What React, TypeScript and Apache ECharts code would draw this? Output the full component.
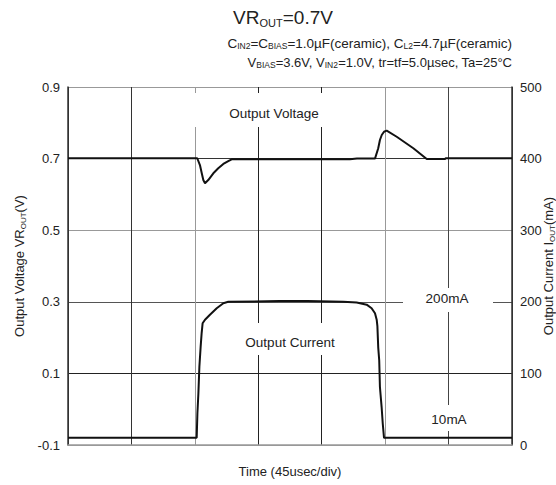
import React, { useEffect, useRef } from "react";
import * as echarts from "echarts";

// Time in microseconds (45 µs/div, 7 divisions)
const TIME_V = [0, 91.7, 93.6, 94.9, 96.0, 97.2, 99.5, 103.1, 106.6, 110.2, 113.7, 116.1, 150, 200, 205, 217.8, 220.1, 221.3, 222.6, 224.2, 226.1, 233.2, 245, 254.5, 267.5, 268, 315];
const VOLT = [0.701, 0.701, 0.682, 0.659, 0.64, 0.631, 0.64, 0.659, 0.673, 0.685, 0.693, 0.698, 0.698, 0.698, 0.700, 0.700, 0.729, 0.752, 0.766, 0.775, 0.778, 0.761, 0.729, 0.699, 0.699, 0.701, 0.701];

const TIME_I = [0, 91.3, 91.8, 92.5, 93.2, 94.1, 94.8, 95.5, 97.2, 100.7, 105.5, 110.2, 113.7, 150, 170, 195.3, 204.8, 211.9, 215.4, 217.8, 219, 219.5, 220.1, 220.8, 221.3, 222.5, 223.3, 224.2, 315];
const CURR = [10, 10, 44, 72, 109, 137, 156, 170, 175, 182, 191, 198, 200, 201, 201, 200, 199, 196, 191, 184, 175, 166, 136, 118, 81, 53, 30, 10, 10];

const V_TICKS = ["-0.1", "0.1", "0.3", "0.5", "0.7", "0.9"];
const I_TICKS = ["0", "100", "200", "300", "400", "500"];
const V_OFFSET = 0.1; // left axis drawn on 0..1.0 scale, labels shifted by -0.1

const FONT = "'Liberation Sans', Arial, sans-serif";

export default function App() {
  const ref = useRef<HTMLDivElement>(null);
  useEffect(() => {
    document.body.style.margin = "0";
    const chart = echarts.init(ref.current!, null, { renderer: "svg" });
    const vData = TIME_V.map((t, i) => [t, VOLT[i] + V_OFFSET]);
    const iData = TIME_I.map((t, i) => [t, CURR[i]]);
    const sub = { fontSize: 8.5, lineHeight: 9, verticalAlign: "bottom", fontFamily: FONT, color: "#222", fill: "#222" };
    const subAxis = { fontSize: 8, lineHeight: 9, verticalAlign: "bottom", fontFamily: FONT, color: "#222" };
    chart.setOption({
      animation: false,
      backgroundColor: "#fff",
      grid: { left: 68, right: 44, top: 87, bottom: 40, containLabel: false, outerBoundsMode: "none" },
      xAxis: {
        type: "value",
        min: 0,
        max: 315,
        interval: 45,
        name: "Time (45usec/div)",
        nameLocation: "middle",
        nameGap: 20,
        nameMoveOverlap: false,
        nameTextStyle: { fontFamily: FONT, fontSize: 13, color: "#222" },
        axisLabel: { show: false },
        axisTick: { show: false },
        axisLine: { show: true, lineStyle: { color: "#999", width: 1.5 } },
        splitLine: { show: true, lineStyle: { color: ["#333", "#333", "#999", "#222", "#222", "#999", "#444", "#333"], width: 1 } },
      },
      yAxis: [
        {
          type: "value",
          min: 0,
          max: 1.0,
          interval: 0.2,
          position: "left",
          name: "{n|Output Voltage VR}{s|OUT}{n|(V)}",
          nameLocation: "middle",
          nameRotate: 90,
          nameGap: 41,
          nameMoveOverlap: false,
          nameTextStyle: {
            fontFamily: FONT,
            fontSize: 13,
            color: "#222",
            rich: { n: { fontSize: 13, lineHeight: 15, fontFamily: FONT, color: "#222" }, s: subAxis },
          },
          axisLabel: { formatter: (_v: number, i: number) => V_TICKS[i], fontFamily: FONT, fontSize: 13, color: "#222", margin: 8 },
          axisTick: { show: false },
          axisLine: { show: true, lineStyle: { color: "#333", width: 1.5 } },
          splitLine: { show: true, lineStyle: { color: ["#999", "#222", "#555", "#999", "#333", "#999"], width: 1 } },
        },
        {
          type: "value",
          min: 0,
          max: 500,
          interval: 100,
          position: "right",
          name: "{n|Output Current I}{s|OUT}{n|(mA)}",
          nameLocation: "middle",
          nameRotate: 90,
          nameGap: 29,
          nameMoveOverlap: false,
          nameTextStyle: {
            fontFamily: FONT,
            fontSize: 13,
            color: "#222",
            rich: { n: { fontSize: 13, lineHeight: 15, fontFamily: FONT, color: "#222" }, s: subAxis },
          },
          axisLabel: { formatter: (_v: number, i: number) => I_TICKS[i], fontFamily: FONT, fontSize: 13, color: "#222", margin: 8 },
          axisTick: { show: false },
          axisLine: { show: true, lineStyle: { color: "#333", width: 1.5 } },
          splitLine: { show: false },
        },
      ],
      series: [
        {
          name: "Output Voltage",
          type: "line",
          yAxisIndex: 0,
          data: vData,
          symbol: "none",
          lineStyle: { color: "#111", width: 2 },
          z: 3,
        },
        {
          name: "Output Current",
          type: "line",
          yAxisIndex: 1,
          data: iData,
          symbol: "none",
          lineStyle: { color: "#111", width: 2 },
          z: 3,
        },
      ],
      graphic: [
        { type: "rect", z: 1, shape: { x: 188, y: 93, width: 144, height: 34 }, style: { fill: "#fff" } },
        { type: "rect", z: 1, shape: { x: 234, y: 323, width: 112, height: 32 }, style: { fill: "#fff" } },
        { type: "rect", z: 1, shape: { x: 403, y: 288, width: 90, height: 24 }, style: { fill: "#fff" } },
        { type: "rect", z: 1, shape: { x: 420, y: 405, width: 58, height: 26 }, style: { fill: "#fff" } },
        { type: "text", z: 2, x: 274, y: 113, style: { text: "Output Voltage", align: "center", verticalAlign: "middle", fontFamily: FONT, fontSize: 13.5, fill: "#222" } },
        { type: "text", z: 2, x: 290, y: 342, style: { text: "Output Current", align: "center", verticalAlign: "middle", fontFamily: FONT, fontSize: 13.5, fill: "#222" } },
        { type: "text", z: 2, x: 447, y: 298, style: { text: "200mA", align: "center", verticalAlign: "middle", fontFamily: FONT, fontSize: 13.5, fill: "#222" } },
        { type: "text", z: 2, x: 449, y: 419, style: { text: "10mA", align: "center", verticalAlign: "middle", fontFamily: FONT, fontSize: 13.5, fill: "#222" } },
        {
          type: "text",
          z: 2,
          x: 283,
          y: 17,
          style: {
            text: "{a|VR}{s|OUT}{a|=0.7V}",
            align: "center",
            verticalAlign: "middle",
            fontFamily: FONT,
            fontSize: 19,
            fill: "#222",
            rich: {
              a: { fontSize: 19, lineHeight: 22, fontFamily: FONT, fill: "#222" },
              s: { fontSize: 11, lineHeight: 11, verticalAlign: "bottom", fontFamily: FONT, fill: "#222" },
            },
          },
        },
        {
          type: "text",
          z: 2,
          x: 512,
          y: 43,
          style: {
            text: "{a|C}{s|IN2}{a|=C}{s|BIAS}{a|=1.0µF(ceramic), C}{s|L2}{a|=4.7µF(ceramic)}",
            align: "right",
            verticalAlign: "middle",
            fontFamily: FONT,
            fontSize: 13.5,
            fill: "#222",
            rich: {
              a: { fontSize: 13.5, lineHeight: 15, fontFamily: FONT, fill: "#222" },
              s: sub,
            },
          },
        },
        {
          type: "text",
          z: 2,
          x: 512,
          y: 62,
          style: {
            text: "{a|V}{s|BIAS}{a|=3.6V, V}{s|IN2}{a|=1.0V, tr=tf=5.0µsec, Ta=25°C}",
            align: "right",
            verticalAlign: "middle",
            fontFamily: FONT,
            fontSize: 13,
            fill: "#222",
            rich: {
              a: { fontSize: 13, lineHeight: 15, fontFamily: FONT, fill: "#222" },
              s: sub,
            },
          },
        },
      ],
    });
    return () => chart.dispose();
  }, []);
  return <div ref={ref} style={{ position: "fixed", left: 0, top: 0, width: 556, height: 485 }} />;
}
